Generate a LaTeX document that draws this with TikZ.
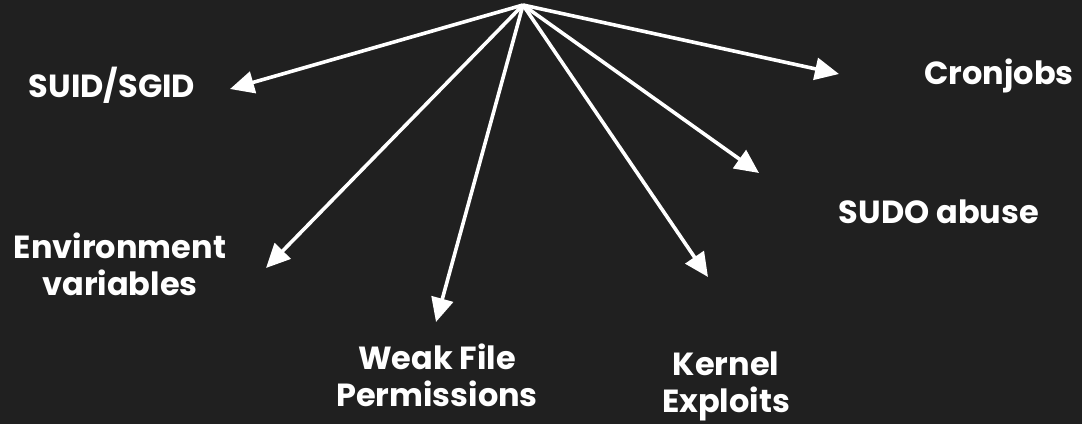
\documentclass[tikz,border=0pt]{standalone}
\usepackage{fontspec}
\setmainfont{Poppins}
\usetikzlibrary{arrows.meta}
\definecolor{bg}{HTML}{202020}
\begin{document}
\begin{tikzpicture}[x=1pt,y=-1pt,
    lbl/.style={text=white,font=\bfseries\fontsize{32}{37}\selectfont,align=center,inner sep=0pt},
    arr/.style={-{Triangle[length=24pt,width=22pt]},white,line width=3.6pt}]
		\fill[bg] (0,0) rectangle (1082,424);
		\coordinate (top) at (523,5);
		\node[lbl,anchor=base] (suid) at (112,97) {SUID/SGID};
		\node[lbl,anchor=base] (cron) at (999,84) {Cronjobs};
		\node[lbl,anchor=base] (sudo) at (939,223) {SUDO abuse};
		\node[lbl] (env) at (120,264) {Environment\\variables};
		\node[lbl] (weak) at (437,375) {Weak File\\Permissions};
		\node[lbl] (kern) at (726,386) {Kernel\\Exploits};
		\coordinate (tsuid) at (230,89);
		\coordinate (tcron) at (839,74);
		\coordinate (tsudo) at (759,173);
		\coordinate (tenv) at (266,268);
		\coordinate (tweak) at (436,322);
		\coordinate (tkern) at (708,277);
		\foreach \t in {tsuid,tcron,tsudo,tenv,tweak,tkern}
		    \draw[arr] (top) -- (\t);
		\end{tikzpicture}
\end{document}
